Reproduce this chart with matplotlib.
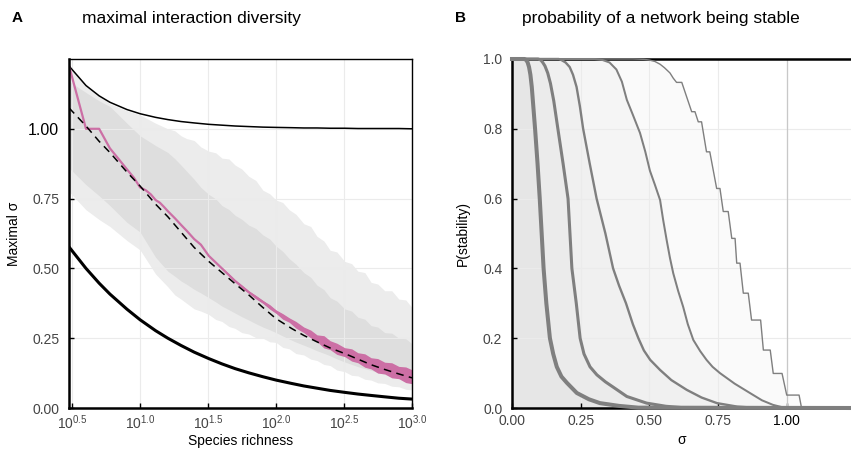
import matplotlib
matplotlib.use("Agg")
import matplotlib.pyplot as plt

plt.rcParams['font.family'] = ['Liberation Sans', 'DejaVu Sans']
plt.rcParams['mathtext.fontset'] = 'custom'
plt.rcParams['mathtext.rm'] = 'Liberation Sans'
plt.rcParams['mathtext.it'] = 'Liberation Sans:italic'
plt.rcParams['mathtext.bf'] = 'Liberation Sans:bold'

# ---- panel A: maximal interaction diversity vs species richness
richness = [3, 4, 5, 6, 8, 10, 13, 16, 20, 25, 32, 40, 50, 63, 80, 100,
            130, 160, 200, 250, 320, 400, 500, 630, 800, 1000]
upper_bound = [1.225, 1.155, 1.118, 1.095, 1.069, 1.054, 1.041, 1.033, 1.026, 1.021,
               1.016, 1.013, 1.010, 1.008, 1.006, 1.005, 1.004, 1.003, 1.003, 1.002,
               1.002, 1.001, 1.001, 1.001, 1.001, 1.000]
lower_bound = [0.577, 0.500, 0.447, 0.408, 0.354, 0.316, 0.277, 0.250, 0.224, 0.200,
               0.177, 0.158, 0.141, 0.126, 0.112, 0.100, 0.088, 0.079, 0.071, 0.063,
               0.056, 0.050, 0.045, 0.040, 0.035, 0.032]
expected = [1.075, 1.010, 0.955, 0.915, 0.845, 0.795, 0.730, 0.685, 0.630, 0.575,
            0.525, 0.485, 0.445, 0.405, 0.360, 0.320, 0.285, 0.260, 0.237, 0.215,
            0.195, 0.175, 0.155, 0.138, 0.122, 0.108]

band_n = [3, 4, 5, 6, 8, 10, 13, 16, 18, 20, 22, 25, 28, 32, 36, 40, 45, 50, 56, 63,
          71, 80, 90, 100, 112, 125, 140, 160, 180, 200, 225, 250, 280, 320, 360, 400,
          450, 500, 560, 630, 710, 800, 900, 1000]
outer_hi = [1.225, 1.155, 1.118, 1.090, 1.065, 1.050, 1.020, 1.000, 0.993, 0.975,
            0.965, 0.958, 0.935, 0.920, 0.914, 0.895, 0.892, 0.870, 0.856, 0.830,
            0.815, 0.780, 0.767, 0.745, 0.736, 0.710, 0.694, 0.660, 0.650, 0.615,
            0.598, 0.565, 0.559, 0.525, 0.517, 0.490, 0.485, 0.450, 0.444, 0.420,
            0.420, 0.390, 0.387, 0.360]
inner_hi = [1.170, 1.130, 1.100, 1.080, 1.020, 0.975, 0.940, 0.915, 0.893, 0.870,
            0.848, 0.819, 0.790, 0.765, 0.749, 0.725, 0.711, 0.690, 0.676, 0.655,
            0.643, 0.620, 0.605, 0.580, 0.561, 0.535, 0.515, 0.485, 0.468, 0.440,
            0.424, 0.395, 0.383, 0.355, 0.347, 0.325, 0.318, 0.295, 0.290, 0.270,
            0.268, 0.250, 0.248, 0.230]
inner_lo = [0.860, 0.800, 0.760, 0.725, 0.665, 0.630, 0.540, 0.490, 0.472, 0.455,
            0.443, 0.425, 0.412, 0.395, 0.380, 0.365, 0.352, 0.340, 0.327, 0.315,
            0.302, 0.290, 0.280, 0.270, 0.258, 0.247, 0.236, 0.225, 0.215, 0.205,
            0.196, 0.187, 0.176, 0.165, 0.156, 0.148, 0.141, 0.135, 0.127, 0.120,
            0.114, 0.108, 0.102, 0.097]
outer_lo = [0.775, 0.710, 0.675, 0.650, 0.600, 0.566, 0.480, 0.434, 0.405, 0.390,
            0.375, 0.355, 0.347, 0.335, 0.317, 0.310, 0.292, 0.285, 0.270, 0.265,
            0.252, 0.250, 0.237, 0.235, 0.217, 0.212, 0.195, 0.190, 0.175, 0.170,
            0.156, 0.152, 0.136, 0.130, 0.117, 0.115, 0.103, 0.100, 0.090, 0.088,
            0.078, 0.076, 0.067, 0.065]

observed_n = [3, 4, 5, 6, 7, 8, 9, 10, 11, 12, 13, 14, 15, 16, 18, 20, 22, 25, 28,
              32, 40, 50, 63, 80, 100, 130, 160, 200, 250, 320, 400, 500, 630, 800, 1000]
observed = [1.226, 1.000, 1.000, 0.930, 0.890, 0.855, 0.825, 0.790, 0.780, 0.765,
            0.745, 0.735, 0.720, 0.705, 0.680, 0.656, 0.635, 0.605, 0.585, 0.545,
            0.500, 0.455, 0.415, 0.380, 0.345, 0.310, 0.280, 0.250, 0.225, 0.200,
            0.180, 0.160, 0.143, 0.127, 0.112]
spread_n = [40, 45, 50, 56, 63, 71, 80, 90, 100, 112, 125, 140, 160, 180, 200, 225,
            250, 280, 320, 360, 400, 450, 500, 560, 630, 710, 800, 900, 1000]
spread_lo = [0.497, 0.473, 0.452, 0.430, 0.411, 0.391, 0.375, 0.354, 0.339, 0.318,
             0.307, 0.286, 0.270, 0.251, 0.238, 0.215, 0.209, 0.192, 0.184, 0.168,
             0.162, 0.146, 0.140, 0.125, 0.122, 0.108, 0.105, 0.091, 0.087]
spread_hi = [0.503, 0.481, 0.458, 0.440, 0.419, 0.403, 0.385, 0.370, 0.351, 0.338,
             0.323, 0.310, 0.290, 0.279, 0.262, 0.259, 0.241, 0.232, 0.216, 0.212,
             0.198, 0.194, 0.180, 0.177, 0.164, 0.162, 0.149, 0.147, 0.137]

# ---- panel B: probability of stability vs sigma (five network sizes)
sig1 = [0, 0.045, 0.052, 0.057, 0.062, 0.067, 0.072, 0.084, 0.093, 0.101, 0.108,
        0.115, 0.125, 0.138, 0.150, 0.163, 0.180, 0.200, 0.236, 0.280, 0.320,
        0.390, 0.460, 1.235]
p1 = [1, 1, 0.997, 0.99, 0.977, 0.955, 0.92, 0.80, 0.70, 0.60, 0.50,
      0.40, 0.30, 0.20, 0.155, 0.118, 0.09, 0.072, 0.043, 0.025, 0.014,
      0.006, 0.001, 0]
sig2 = [0, 0.095, 0.105, 0.112, 0.120, 0.130, 0.140, 0.152, 0.167, 0.186, 0.204,
        0.211, 0.218, 0.234, 0.248, 0.262, 0.284, 0.309, 0.340, 0.368, 0.418,
        0.490, 0.560, 0.620, 1.235]
p2 = [1, 1, 0.997, 0.99, 0.98, 0.96, 0.93, 0.88, 0.80, 0.70, 0.60,
      0.50, 0.40, 0.30, 0.20, 0.155, 0.118, 0.095, 0.075, 0.06, 0.033,
      0.014, 0.005, 0.001, 0]
sig3 = [0, 0.170, 0.180, 0.195, 0.210, 0.222, 0.235, 0.247, 0.259, 0.283, 0.308,
        0.340, 0.368, 0.390, 0.415, 0.440, 0.460, 0.480, 0.503, 0.539, 0.580,
        0.636, 0.690, 0.746, 0.820, 0.880, 1.235]
p3 = [1, 1, 0.997, 0.99, 0.977, 0.955, 0.92, 0.865, 0.80, 0.70, 0.60,
      0.50, 0.40, 0.35, 0.30, 0.24, 0.20, 0.165, 0.138, 0.109, 0.08,
      0.052, 0.03, 0.014, 0.004, 0.001, 0]
sig4 = [0, 0.300, 0.330, 0.355, 0.380, 0.400, 0.418, 0.440, 0.466, 0.485, 0.502,
        0.520, 0.539, 0.550, 0.563, 0.575, 0.587, 0.605, 0.623, 0.640, 0.660,
        0.685, 0.708, 0.730, 0.757, 0.810, 0.866, 0.910, 0.950, 0.985, 1.020, 1.235]
p4 = [1, 1, 0.997, 0.99, 0.97, 0.935, 0.883, 0.84, 0.788, 0.735, 0.68,
      0.64, 0.596, 0.54, 0.481, 0.43, 0.386, 0.335, 0.29, 0.24, 0.195,
      0.163, 0.138, 0.118, 0.10, 0.07, 0.043, 0.022, 0.009, 0.002, 0, 0]
sig5 = [0, 0.440, 0.480, 0.500, 0.520, 0.539, 0.555, 0.575, 0.587, 0.599, 0.618,
        0.654, 0.666, 0.678, 0.690, 0.708, 0.720, 0.745, 0.757, 0.769, 0.787,
        0.800, 0.812, 0.818, 0.830, 0.842, 0.860, 0.872, 0.905, 0.915, 0.940,
        0.951, 0.983, 1.000, 1.045, 1.054, 1.235]
p5 = [1, 1, 0.999, 0.997, 0.993, 0.985, 0.975, 0.96, 0.945, 0.933, 0.933,
      0.849, 0.849, 0.82, 0.82, 0.734, 0.734, 0.629, 0.629, 0.563, 0.563,
      0.486, 0.486, 0.415, 0.415, 0.329, 0.329, 0.252, 0.252, 0.166, 0.166,
      0.099, 0.099, 0.037, 0.037, 0, 0]

x_ticks_a = [10 ** 0.5, 10 ** 1.0, 10 ** 1.5, 10 ** 2.0, 10 ** 2.5, 10 ** 3.0]
x_labels_a = [r'$\mathregular{10^{0.5}}$', r'$\mathregular{10^{1.0}}$', r'$\mathregular{10^{1.5}}$',
              r'$\mathregular{10^{2.0}}$', r'$\mathregular{10^{2.5}}$', r'$\mathregular{10^{3.0}}$']
y_ticks_a = [0, 0.25, 0.5, 0.75, 1.0]
y_labels_a = ['0.00', '0.25', '0.50', '0.75', '1.00']

grey = '#7f7f7f'
pink = '#cc6fa5'
tick_col = '#444444'

fig = plt.figure(figsize=(8.51, 4.5), dpi=100)
axA = fig.add_axes([69 / 851, 42 / 450, 343 / 851, 349 / 450])
axB = fig.add_axes([512 / 851, 42 / 450, 339 / 851, 349 / 450])

for ax in (axA, axB):
    ax.grid(True, color='#ebebeb', lw=0.8)
    ax.tick_params(direction='in', length=3.5, width=1, colors='black',
                   labelcolor=tick_col, labelsize=10)
    ax.tick_params(axis='y', pad=7)
    ax.tick_params(axis='x', pad=4)
    for s in ('left', 'bottom'):
        ax.spines[s].set_linewidth(1.8)

# panel A
axA.set_xscale('log')
axA.fill_between(band_n, outer_lo, outer_hi, color='#ececec', lw=0)
axA.fill_between(band_n, inner_lo, inner_hi, color='#dedede', lw=0)
axA.plot(richness, upper_bound, color='black', lw=1.1)
axA.plot(richness, lower_bound, color='black', lw=2.2)
axA.fill_between(spread_n, spread_lo, spread_hi, color=pink, lw=0, zorder=2.1)
axA.plot(observed_n, observed, color=pink, lw=1.6, zorder=2.2)
axA.plot(richness, expected, color='black', lw=1.1, dashes=(5, 3.5), zorder=2.3)
axA.set_xlim(3, 1000)
axA.set_ylim(0, 1.25)
axA.set_xticks(x_ticks_a)
axA.set_xticklabels(x_labels_a)
axA.minorticks_off()
axA.set_yticks(y_ticks_a)
axA.set_yticklabels(y_labels_a)
axA.get_yticklabels()[-1].set_color('black')
axA.get_yticklabels()[-1].set_fontsize(11.5)
axA.spines['top'].set_linewidth(1.0)
axA.spines['right'].set_linewidth(1.0)
axA.set_xlabel('Species richness', fontsize=10, labelpad=1)
axA.set_ylabel('Maximal σ', fontsize=10)
axA.yaxis.set_label_coords(-0.14, 0.5)

# panel B
curves = [(sig1, p1, 2.9), (sig2, p2, 2.2), (sig3, p3, 1.7), (sig4, p4, 1.45), (sig5, p5, 1.0)]
for s, p, lw in curves:
    axB.fill_between(s, 0, p, color='black', alpha=0.018, lw=0)
for s, p, lw in curves:
    axB.plot(s, p, color=grey, lw=lw, zorder=3, clip_on=False)
axB.axvline(1.0, color='#c8c8c8', lw=0.9, zorder=1.6)
axB.set_xlim(0, 1.234)
axB.set_ylim(0, 1.0)
axB.set_xticks([0, 0.25, 0.5, 0.75, 1.0])
axB.set_xticklabels(['0.00', '0.25', '0.50', '0.75', '1.00'])
axB.get_xticklabels()[-1].set_color('black')
axB.set_yticks([0, 0.2, 0.4, 0.6, 0.8, 1.0])
axB.set_yticklabels(['0.0', '0.2', '0.4', '0.6', '0.8', '1.0'])
axB.spines['top'].set_linewidth(1.8)
axB.spines['right'].set_visible(False)
axB.set_xlabel('σ', fontsize=10, labelpad=4)
axB.set_ylabel('P(stability)', fontsize=10)
axB.yaxis.set_label_coords(-0.124, 0.5)

fig.text(17 / 851, 1 - 18 / 450, 'A', fontsize=11, fontweight='bold', ha='center', va='center')
fig.text(82 / 851, 1 - 18 / 450, 'maximal interaction diversity', fontsize=12.5, va='center')
fig.text(460 / 851, 1 - 18 / 450, 'B', fontsize=11, fontweight='bold', ha='center', va='center')
fig.text(522 / 851, 1 - 18 / 450, 'probability of a network being stable', fontsize=12.5, va='center')

fig.savefig('out.png', dpi=100)
